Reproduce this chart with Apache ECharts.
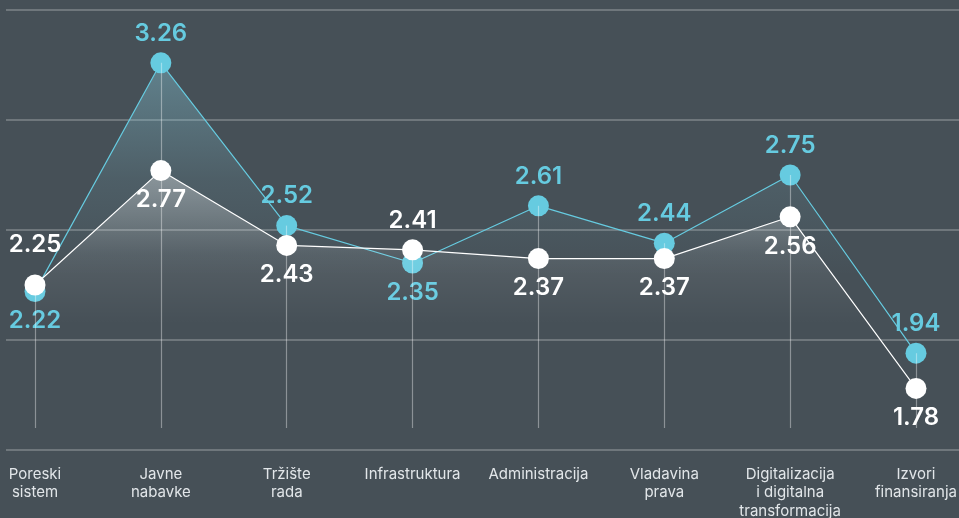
<!DOCTYPE html>
<html>
<head>
<meta charset="utf-8">
<script src="https://cdn.jsdelivr.net/npm/echarts@6/dist/echarts.min.js"></script>
<style>
  html, body { margin: 0; padding: 0; background: #465057; }
  #chart { width: 959px; height: 518px; }
</style>
</head>
<body>
<div id="chart"></div>
<script>
const categories = [
  "Poreski\nsistem",
  "Javne\nnabavke",
  "Tržište\nrada",
  "Infrastruktura",
  "Administracija",
  "Vladavina\nprava",
  "Digitalizacija\ni digitalna\ntransformacija",
  "Izvori\nfinansiranja",
];
const cyanValues = [2.22, 3.26, 2.52, 2.35, 2.61, 2.44, 2.75, 1.94];
const whiteValues = [2.25, 2.77, 2.43, 2.41, 2.37, 2.37, 2.56, 1.78];

const CYAN = "#66cbe0";
const FONT = "Inter, 'Noto Sans', sans-serif";
const Y_MIN = 1.5, Y_MAX = 3.5, Y_STEP = 0.5;
const STEM_END = 1.6; // stems stop a bit above the bottom line

const chart = echarts.init(document.getElementById("chart"));

// label above for the higher series, below for the lower one
const pointData = (values, others) =>
  values.map((v, i) => {
    const above = v >= others[i];
    return {
      value: v,
      label: {
        position: above ? "top" : "bottom",
        distance: Math.abs(v - others[i]) < 0.05 && above ? 18 : 7,
      },
    };
  });

const areaGradient = (rgb, a, mid) => ({
  type: "linear", x: 0, y: 0, x2: 0, y2: 1,
  colorStops: [
    { offset: 0, color: `rgba(${rgb},${a})` },
    { offset: 0.3, color: `rgba(${rgb},${mid})` },
    { offset: 0.55, color: `rgba(${rgb},0)` },
  ],
});

const valueLabel = (color) => ({
  show: true,
  color,
  fontFamily: FONT,
  fontSize: 24,
  fontWeight: 600,
  formatter: (p) => p.value.toFixed(2),
});

chart.setOption({
  backgroundColor: "#465057",
  animation: false,
  grid: [
    { left: 6, right: 0, top: 10, bottom: 68, outerBoundsMode: "none" },
    { left: 35, right: 43, top: 10, bottom: 68, outerBoundsMode: "none" },
  ],
  xAxis: [
    { gridIndex: 0, type: "value", show: false, min: 0, max: 1 },
    {
      gridIndex: 1,
      type: "category",
      data: categories,
      boundaryGap: false,
      axisLine: { show: false },
      axisTick: { show: false },
      splitLine: { show: false },
      axisLabel: {
        color: "#e2e6e9",
        fontFamily: FONT,
        fontSize: 15,
        lineHeight: 18.5,
        margin: 15,
        interval: 0,
      },
    },
  ],
  yAxis: [
    {
      gridIndex: 0,
      type: "value",
      min: Y_MIN, max: Y_MAX, interval: Y_STEP,
      axisLine: { show: false },
      axisTick: { show: false },
      axisLabel: { show: false },
      splitLine: { lineStyle: { color: "rgba(255,255,255,0.3)", width: 1.5 } },
    },
    {
      gridIndex: 1,
      type: "value",
      min: Y_MIN, max: Y_MAX, interval: Y_STEP,
      show: false,
    },
  ],
  series: [
    {
      name: "stems",
      type: "line",
      xAxisIndex: 1,
      yAxisIndex: 1,
      data: [],
      z: 1,
      markLine: {
        silent: true,
        symbol: "none",
        label: { show: false },
        lineStyle: { color: "rgba(255,255,255,0.38)", width: 1.2, type: "solid" },
        data: categories.map((c, i) => [
          { coord: [i, Math.max(cyanValues[i], whiteValues[i])] },
          { coord: [i, STEM_END] },
        ]),
      },
    },
    {
      name: "cyan",
      type: "line",
      xAxisIndex: 1,
      yAxisIndex: 1,
      data: pointData(cyanValues, whiteValues),
      symbol: "circle",
      symbolSize: 21,
      itemStyle: { color: CYAN },
      lineStyle: { color: CYAN, width: 1.2 },
      areaStyle: { color: areaGradient("140,210,228", 0.55, 0.16), origin: "start" },
      label: valueLabel(CYAN),
      z: 3,
    },
    {
      name: "white",
      type: "line",
      xAxisIndex: 1,
      yAxisIndex: 1,
      data: pointData(whiteValues, cyanValues),
      symbol: "circle",
      symbolSize: 21,
      itemStyle: { color: "#ffffff" },
      lineStyle: { color: "#ffffff", width: 1.2 },
      areaStyle: { color: areaGradient("255,255,255", 0.5, 0.12), origin: "start" },
      label: valueLabel("#ffffff"),
      z: 4,
    },
  ],
});
</script>
</body>
</html>
